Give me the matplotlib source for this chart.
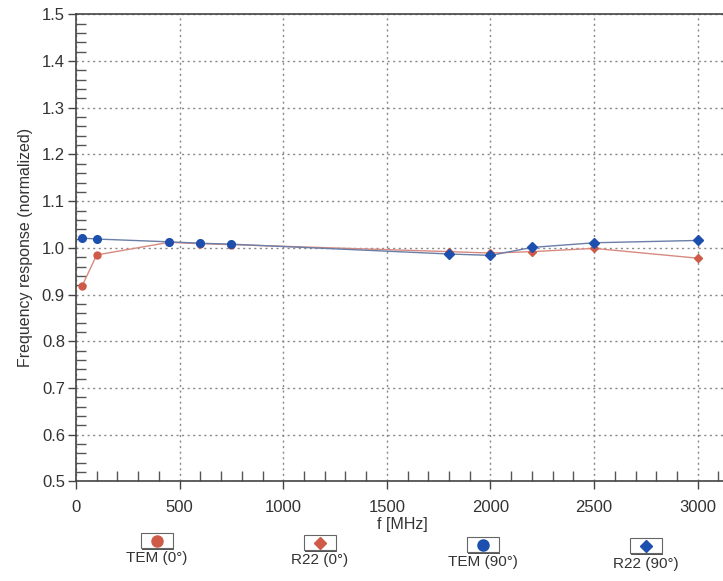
import matplotlib.pyplot as plt
from matplotlib.patches import Rectangle
from matplotlib.ticker import MultipleLocator

plt.rcParams['font.family'] = ['Liberation Sans', 'DejaVu Sans']

# measured points
f_tem = [30, 100, 450, 600, 750]
f_r22 = [1800, 2000, 2200, 2500, 3000]
tem_0 = [0.919, 0.985, 1.012, 1.009, 1.007]
tem_90 = [1.021, 1.019, 1.013, 1.010, 1.008]
r22_0 = [0.992, 0.989, 0.992, 0.999, 0.978]
r22_90 = [0.987, 0.984, 1.001, 1.011, 1.016]

labels = ['TEM (0°)', 'R22 (0°)', 'TEM (90°)', 'R22 (90°)']
red = '#cf5a48'
blue = '#1d4fae'
txt = '#333333'

fig = plt.figure(figsize=(7.23, 5.81), dpi=100)
ax = fig.add_axes([0.1051, 0.1713, 0.8949, 0.804])

# lines join both probes of the same orientation
ax.plot(f_tem + f_r22, tem_0 + r22_0, color='#d88a80', lw=1.0, zorder=2)
ax.plot(f_tem + f_r22, tem_90 + r22_90, color='#6a7ea8', lw=1.0, zorder=3)
ax.plot(f_tem, tem_0, 'o', color=red, ms=5, zorder=4)
ax.plot(f_r22, r22_0, 'D', color=red, ms=4.5, zorder=4)
ax.plot(f_tem, tem_90, 'o', color=blue, ms=5.5, zorder=5)
ax.plot(f_r22, r22_90, 'D', color=blue, ms=5, zorder=5)

ax.set_xlim(0, 3122)
ax.set_ylim(0.5, 1.5)
ax.xaxis.set_major_locator(MultipleLocator(500))
ax.xaxis.set_minor_locator(MultipleLocator(100))
ax.yaxis.set_major_locator(MultipleLocator(0.1))
ax.yaxis.set_minor_locator(MultipleLocator(0.02))
ax.yaxis.set_major_formatter(plt.FuncFormatter(lambda v, p: f'{v:.1f}'))
ax.tick_params(which='major', direction='out', length=6, width=1, color='#444444',
               labelsize=12, labelcolor=txt)
ax.tick_params(which='minor', direction='in', length=7, width=1, color='#555555')
ax.tick_params(axis='y', which='major', pad=2)
ax.tick_params(axis='x', which='major', pad=7)
ax.grid(True, which='major', linestyle=(0, (1.5, 2.5)), color='#888888', lw=1.0)

for s in ['left', 'bottom', 'top']:
    ax.spines[s].set_color('#444444')
    ax.spines[s].set_linewidth(1.2)
ax.spines['right'].set_visible(False)

ax.set_ylabel('Frequency response (normalized)', fontsize=11.5, color=txt, labelpad=6)

W, H = 723, 581
fig.text(402 / W, 1 - 525 / H, 'f [MHz]', ha='center', va='center', fontsize=11.5, color=txt)

# legend boxes under the plot
legend_x = [157, 320, 483, 646]
box_y = [533, 535, 537, 538]
text_y = [558, 560, 562, 564]
legend_mark = ['o', 'D', 'o', 'D']
legend_col = [red, red, blue, blue]
for lx, by, ty, lab, mk, col in zip(legend_x, box_y, text_y, labels, legend_mark, legend_col):
    bx, bw, bh = lx - 16, 32, 15
    fig.patches.append(Rectangle((bx / W + 0.002, 1 - (by + bh + 2) / H), bw / W, bh / H,
                                 transform=fig.transFigure, facecolor='#555555',
                                 edgecolor='none'))
    fig.patches.append(Rectangle((bx / W, 1 - (by + bh) / H), bw / W, bh / H,
                                 transform=fig.transFigure, facecolor='white',
                                 edgecolor='#666666', lw=0.8))
    fig.lines.append(plt.Line2D([lx / W], [1 - (by + bh / 2) / H], marker=mk,
                                color=col, ms=8 if mk == 'o' else 6,
                                transform=fig.transFigure))
    fig.text(lx / W, 1 - ty / H, lab, ha='center', va='center', fontsize=11, color=txt)

fig.savefig('out.png', dpi=100)
